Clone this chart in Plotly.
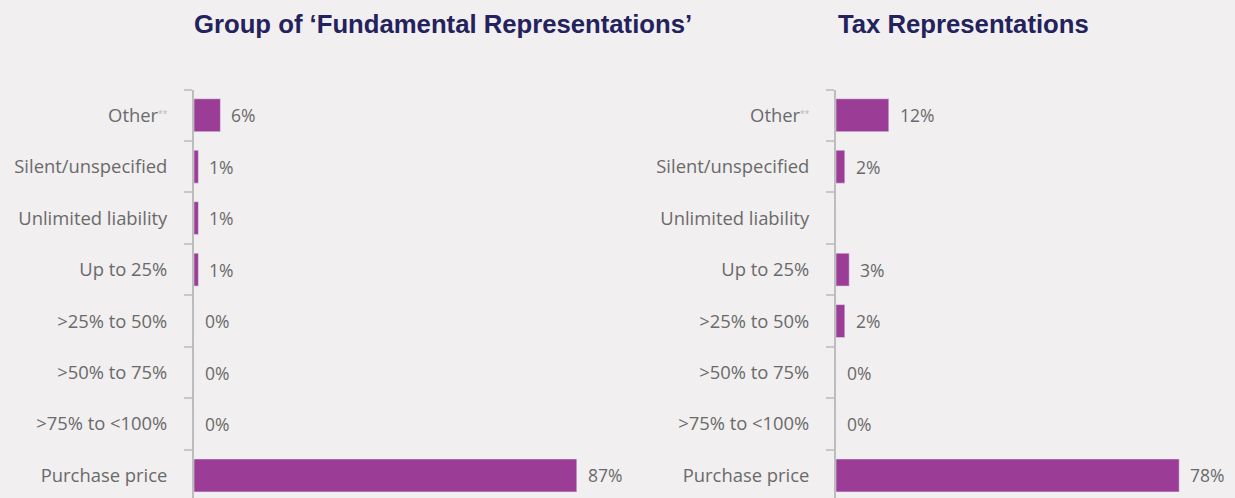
import plotly.graph_objects as go

categories = ["Other<span style='font-size:12px;color:#b5b5b5'><sup>**</sup></span>", "Silent/unspecified", "Unlimited liability", "Up to 25%",
              ">25% to 50%", ">50% to 75%", ">75% to <100%", "Purchase price"]
fundamental_values = [6, 1, 1, 1, 0, 0, 0, 87]
tax_values = [12, 2, None, 3, 2, 0, 0, 78]
fundamental_labels = ["6%", "1%", "1%", "1%", "0%", "0%", "0%", "87%"]
tax_labels = ["12%", "2%", "", "3%", "2%", "0%", "0%", "78%"]
titles = ["Group of ‘Fundamental Representations’", "Tax Representations"]

BG = "#f1eff0"
BAR = "#9b3d96"
W, H = 1235, 498

fig = go.Figure()
fig.add_trace(go.Bar(y=categories, x=[v if v is not None else 0 for v in fundamental_values],
                     orientation="h", marker_color=BAR, xaxis="x", yaxis="y",
                     hoverinfo="skip", showlegend=False))
fig.add_trace(go.Bar(y=categories, x=[v if v is not None else 0 for v in tax_values],
                     orientation="h", marker_color=BAR, xaxis="x2", yaxis="y2",
                     hoverinfo="skip", showlegend=False))

annotations = []
for xref, yref, vals, labs in [("x", "y", fundamental_values, fundamental_labels),
                               ("x2", "y2", tax_values, tax_labels)]:
    for cat, v, lab in zip(categories, vals, labs):
        if not lab:
            continue
        annotations.append(dict(x=v or 0, y=cat, xref=xref, yref=yref, text=lab,
                                showarrow=False, xanchor="left", xshift=9,
                                font=dict(family="Open Sans", size=17.5, color="#6a6a6a")))

left_dom = [194 / W, 590 / W]
right_dom = [836 / W, 1232 / W]
for t, cx in zip(titles, [443, 964]):
    annotations.append(dict(text=f"<b>{t}</b>", x=cx / W, y=1 - 24 / H, xref="paper", yref="paper",
                            showarrow=False, xanchor="center", yanchor="middle",
                            font=dict(family="Liberation Sans", size=25.7, color="#23225c")))

top = 89.5
row = 51.46
bottom_idx = (H - top) / row - 0.5
ydom_top = 1 - top / H

yax = dict(type="category", categoryorder="array", categoryarray=categories,
           range=[bottom_idx, -0.5], domain=[0, ydom_top], showline=True,
           linecolor="#bdbdbd", linewidth=2, ticks="outside", tickson="boundaries",
           ticklen=8, tickcolor="#c8c8c8", tickwidth=2, showgrid=False, zeroline=False,
           tickfont=dict(family="Open Sans", size=18.4, color="#6a6a6a"),
           ticklabelstandoff=21)
xax = dict(range=[0, 90], showgrid=False, zeroline=False, showticklabels=False,
           showline=False, ticks="")

fig.update_layout(
    width=W, height=H, paper_bgcolor=BG, plot_bgcolor=BG,
    margin=dict(l=0, r=0, t=0, b=0),
    bargap=0.36,
    xaxis=dict(xax, domain=left_dom, anchor="y"),
    yaxis=dict(yax, anchor="x"),
    xaxis2=dict(xax, domain=right_dom, anchor="y2"),
    yaxis2=dict(yax, anchor="x2"),
    annotations=annotations,
)

fig.write_html("out.html", config={"displayModeBar": False},
               post_script="document.body.style.margin='0';document.body.style.background='#f1eff0';")
